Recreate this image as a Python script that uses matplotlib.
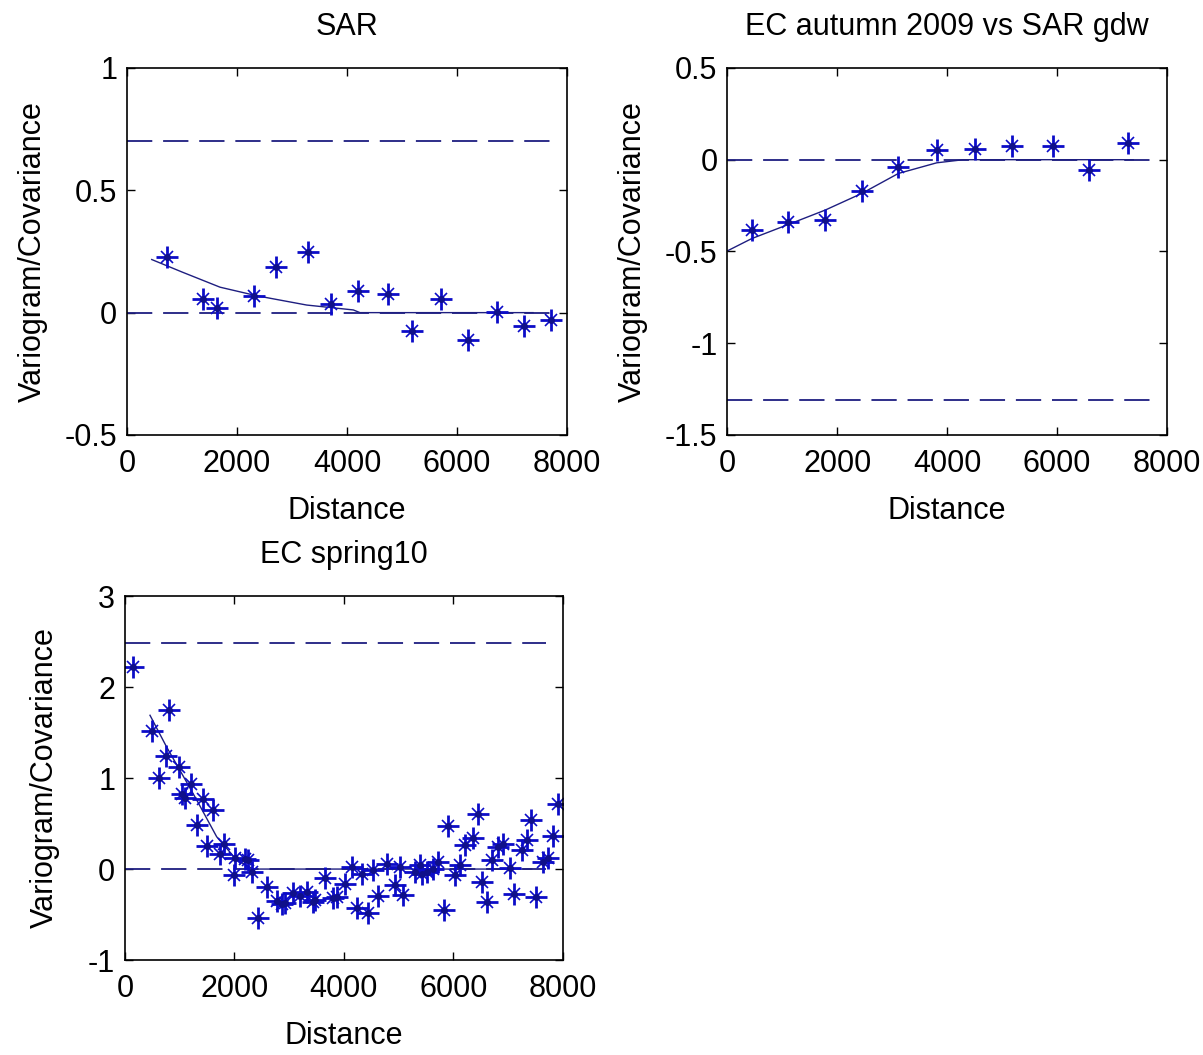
import matplotlib
matplotlib.use("Agg")
import matplotlib.pyplot as plt
from matplotlib.ticker import FormatStrFormatter, FuncFormatter


# -----------------------------
# Data
# -----------------------------
SAR_LAG = [722, 1388, 1642, 2309, 2709, 3285, 3709, 4206, 4751, 5176,
           5709, 6194, 6721, 7218, 7709]
SAR_COV = [0.226, 0.056, 0.018, 0.069, 0.185, 0.249, 0.035, 0.09, 0.076, -0.076,
           0.056, -0.11, 0.001, -0.056, -0.03]
SAR_MODEL_X = [449, 1000, 1691, 2357, 3267, 4115, 4236, 7382]
SAR_MODEL_Y = [0.217, 0.166, 0.104, 0.069, 0.031, 0.011, 0.0, 0.0]
SAR_BOUNDS = [0.7, 0.0]

AUT_LAG = [443, 1110, 1778, 2446, 3113, 3811, 4508, 5188, 5935, 6591, 7301]
AUT_COV = [-0.384, -0.339, -0.33, -0.17, -0.039, 0.052, 0.061, 0.074, 0.074,
           -0.057, 0.092]
AUT_MODEL_X = [0, 443, 1110, 1778, 2446, 3113, 3811, 4296, 7389]
AUT_MODEL_Y = [-0.497, -0.43, -0.353, -0.275, -0.184, -0.075, -0.017, 0.0, 0.0]
AUT_BOUNDS = [0.0, -1.31]

SPR_LAG = [140, 500, 628, 743, 810, 987, 1050, 1100, 1200, 1322,
           1432, 1505, 1615, 1737, 1816, 1998, 2011, 2193, 2254, 2315,
           2437, 2590, 2772, 2864, 2925, 3076, 3200, 3320, 3442, 3473,
           3656, 3808, 3869, 4021, 4143, 4234, 4326, 4448, 4539, 4630,
           4783, 4935, 5026, 5087, 5301, 5392, 5423, 5514, 5635, 5727,
           5831, 5900, 6032, 6123, 6214, 6355, 6446, 6531, 6622, 6714,
           6824, 6915, 7037, 7110, 7251, 7342, 7421, 7512, 7646, 7737,
           7817, 7920]
SPR_COV = [2.22, 1.52, 1.00, 1.24, 1.75, 1.12, 0.83, 0.78, 0.93, 0.48,
           0.77, 0.25, 0.65, 0.16, 0.27, -0.07, 0.12, 0.11, 0.10, -0.03,
           -0.54, -0.20, -0.35, -0.38, -0.37, -0.26, -0.30, -0.25, -0.36, -0.34,
           -0.10, -0.32, -0.31, -0.16, 0.02, -0.43, -0.05, -0.48, -0.01, -0.30,
           0.06, -0.17, 0.02, -0.28, -0.03, 0.04, -0.05, -0.03, 0.00, 0.08,
           -0.45, 0.47, -0.07, 0.05, 0.26, 0.34, 0.61, -0.14, -0.36, 0.10,
           0.24, 0.27, 0.01, -0.27, 0.21, 0.32, 0.54, -0.31, 0.08, 0.12,
           0.36, 0.71]
SPR_MODEL_X = [457, 762, 1000, 1310, 1676, 2041, 2345, 7433]
SPR_MODEL_Y = [1.69, 1.34, 1.09, 0.76, 0.355, 0.1, 0.0, 0.0]
SPR_BOUNDS = [2.48, 0.0]

BOUND_X = [0, 7700]
X_TICKS = [0, 2000, 4000, 6000, 8000]

MARK_COLOR = "#0c0cc8"
LINE_COLOR = "#1e1e80"
FONT_SIZE = 22

plt.rcParams["font.family"] = ["Liberation Sans", "DejaVu Sans"]


def g_format(v, pos):
    return "%g" % v


def draw_panel(ax, title, lag, cov, model_x, model_y, bounds, ylim, yticks,
               ylabel_pad=12):
    for b in bounds:
        ax.plot(BOUND_X, [b, b], color=LINE_COLOR, lw=1.3,
                linestyle=(0, (14, 6)))
    ax.plot(model_x, model_y, color=LINE_COLOR, lw=1.0)
    # matlab-style asterisk: plus + cross + centre dot
    ax.plot(lag, cov, "+", color=MARK_COLOR, ms=16, mew=2.0)
    ax.plot(lag, cov, "x", color=MARK_COLOR, ms=8, mew=1.2)
    ax.plot(lag, cov, ".", color="#10108a", ms=8)

    ax.set_xlim(0, 8000)
    ax.set_ylim(*ylim)
    ax.set_xticks(X_TICKS)
    ax.set_yticks(yticks)
    ax.yaxis.set_major_formatter(FuncFormatter(g_format))
    ax.xaxis.set_major_formatter(FormatStrFormatter("%d"))
    ax.tick_params(direction="in", top=True, right=True, length=6, width=1,
                   labelsize=FONT_SIZE)
    ax.tick_params(axis="x", pad=10)
    ax.tick_params(axis="y", pad=7)
    for sp in ax.spines.values():
        sp.set_linewidth(1.2)
    ax.set_title(title, fontsize=FONT_SIZE, pad=24)
    ax.set_xlabel("Distance", fontsize=FONT_SIZE, labelpad=12)
    ax.set_ylabel("Variogram/Covariance", fontsize=FONT_SIZE,
                  labelpad=ylabel_pad)


def main():
    fig = plt.figure(figsize=(12.03, 10.55), dpi=100)
    ax1 = fig.add_axes([0.1056, 0.5877, 0.3657, 0.3479])
    ax2 = fig.add_axes([0.6046, 0.5877, 0.3653, 0.3479])
    ax3 = fig.add_axes([0.1039, 0.0900, 0.3638, 0.3450])

    draw_panel(ax1, "SAR", SAR_LAG, SAR_COV, SAR_MODEL_X, SAR_MODEL_Y,
               SAR_BOUNDS, (-0.5, 1), [-0.5, 0, 0.5, 1])
    draw_panel(ax2, "EC autumn 2009 vs SAR gdw", AUT_LAG, AUT_COV,
               AUT_MODEL_X, AUT_MODEL_Y, AUT_BOUNDS, (-1.5, 0.5),
               [-1.5, -1, -0.5, 0, 0.5])
    draw_panel(ax3, "EC spring10", SPR_LAG, SPR_COV, SPR_MODEL_X, SPR_MODEL_Y,
               SPR_BOUNDS, (-1, 3), [-1, 0, 1, 2, 3], ylabel_pad=20)

    fig.savefig("out.png", dpi=100)
    plt.close(fig)


if __name__ == "__main__":
    main()
